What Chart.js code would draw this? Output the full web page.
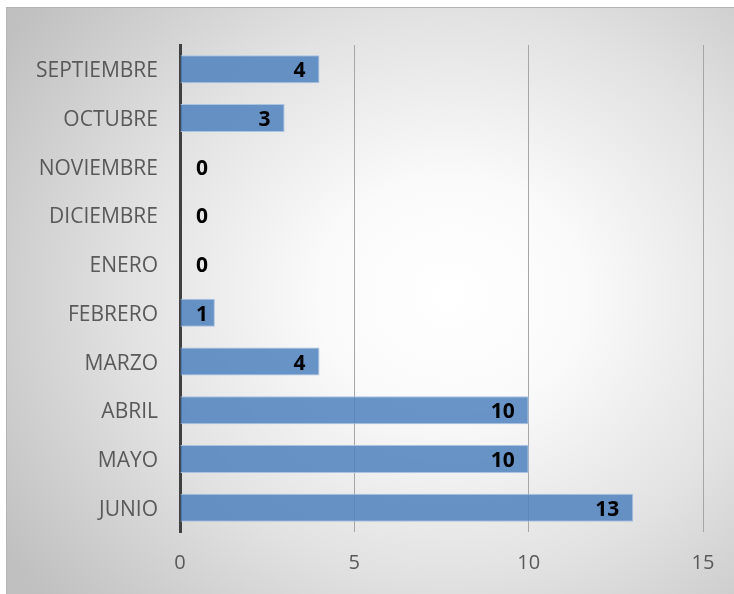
<!DOCTYPE html>
<html>
<head>
<meta charset="utf-8">
<script src="https://cdn.jsdelivr.net/npm/chart.js@4"></script>
<style>
  html, body { margin: 0; padding: 0; background: #fff; }
  #frame {
    position: absolute; left: 6px; top: 7px; width: 740px; height: 600px;
    box-sizing: border-box; border: 1px solid #b4b4b4;
    background: radial-gradient(ellipse 72% 78% at 60% 48%, #ffffff 0%, #fafafa 25%, #e2e2e2 60%, #c0c0c0 100%);
  }
  #wrap { position: absolute; left: 0; top: 0; width: 734px; height: 594px; }
</style>
</head>
<body>
<div id="frame"></div>
<div id="wrap"><canvas id="chart"></canvas></div>
<script>
    "use strict";
    const categories = ["SEPTIEMBRE", "OCTUBRE", "NOVIEMBRE", "DICIEMBRE", "ENERO", "FEBRERO", "MARZO", "ABRIL", "MAYO", "JUNIO"];
    const values = [4, 3, 0, 0, 0, 1, 4, 10, 10, 13];
    const xTicks = [0, 5, 10, 15];

    const FONT = "'Open Sans', 'Noto Sans', sans-serif";

    // etiquetas de datos dentro del extremo de la barra (como en Excel)
    const barLabels = {
        id: "barLabels",
        afterDatasetsDraw(chart) {
            const { ctx, scales: { x } } = chart;
            const meta = chart.getDatasetMeta(0);
            ctx.save();
            ctx.font = "bold 21px " + FONT;
            ctx.fillStyle = "#000";
            ctx.textAlign = "right";
            ctx.textBaseline = "middle";
            meta.data.forEach((bar, i) => {
                const txt = String(values[i]);
                const w = ctx.measureText(txt).width;
                const px = Math.max(x.getPixelForValue(values[i]) - 14, x.getPixelForValue(0) + 16 + w);
                ctx.fillText(txt, px, bar.y + 2);
            });
            ctx.restore();
        },
    };

    new Chart(document.getElementById("chart"), {
        type: "bar",
        data: {
            labels: categories,
            datasets: [{
                data: values,
                backgroundColor: "rgba(79, 129, 189, 0.85)",
                borderColor: "#a9c3e2",
                borderWidth: 1,
                borderSkipped: "start",
                categoryPercentage: 1,
                barPercentage: 0.575,
            }],
        },
        options: {
            indexAxis: "y",
            responsive: true,
            maintainAspectRatio: false,
            animation: false,
            layout: { padding: { top: 45, right: 31, bottom: 0, left: 0 } },
            plugins: { legend: { display: false }, tooltip: { enabled: false } },
            scales: {
                x: {
                    min: 0, max: 15,
                    afterBuildTicks: (s) => { s.ticks = xTicks.map((v) => ({ value: v })); },
                    afterFit: (s) => { s.height = 62; },
                    grid: { color: "#a6a6a6", lineWidth: 1, drawTicks: false },
                    border: { display: false },
                    ticks: { color: "#595959", font: { family: FONT, size: 20 }, padding: 19 },
                },
                y: {
                    z: 1,
                    afterFit: (s) => { s.width = 180; },
                    grid: { display: false, drawTicks: false },
                    border: { display: true, color: "#404040", width: 3 },
                    ticks: { color: "#595959", font: { family: FONT, size: 21 }, padding: 22, labelOffset: 2 },
                },
            },
        },
        plugins: [barLabels],
    });
</script>
</body>
</html>
